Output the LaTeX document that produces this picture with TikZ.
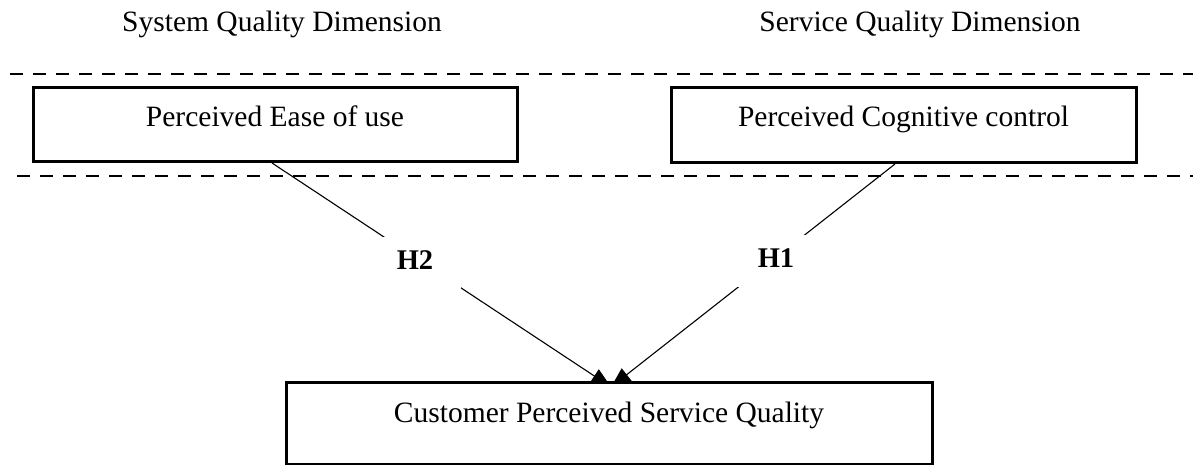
\documentclass[tikz,border=0pt]{standalone}
\usepackage{fontspec}
\setmainfont{Liberation Serif}
\usetikzlibrary{arrows.meta,backgrounds}

\begin{document}
\begin{tikzpicture}[x=1pt,y=-1pt,
  every node/.style={font=\fontsize{29.5}{35}\selectfont},
  heading/.style={anchor=base, inner sep=0pt},
  conbox/.style={draw, line width=3pt, fill=white, inner xsep=0pt, inner ysep=0pt,
                 anchor=north, align=center},
  divider/.style={line width=2.5pt, dash pattern=on 13pt off 10pt},
  conn/.style={line width=1.1pt, -{Triangle[length=20pt,width=16pt]}},
  hyp/.style={fill=white, font=\fontsize{28.5}{34}\selectfont\bfseries, anchor=base,
              inner xsep=28pt, inner ysep=0pt, text height=32pt, text depth=20pt}]
\useasboundingbox (0,0) rectangle (1193,465);

% column headings
\node[heading] (sysdim) at (282,32) {System Quality Dimension};
\node[heading] (serdim) at (920,32) {Service Quality Dimension};

% dashed band around the construct boxes
\draw[divider] (10,74) -- (1193,74);
\draw[divider] (17,176) -- (1193,176);

% constructs
\node[conbox, minimum width=484pt, text height=39pt, text depth=35pt] (peou) at (275,86)
  {Perceived Ease of use};
\node[conbox, minimum width=465pt, text height=39pt, text depth=36pt] (pcc) at (903.5,86)
  {Perceived Cognitive control};

% outcome
\node[conbox, minimum width=646pt, text height=40pt, text depth=42pt] (cpsq) at (609,381)
  {Customer Perceived Service Quality};
\coordinate (target) at (611,387);

% hypotheses: arrows run behind the outcome box, so only the upper part of each head shows
\begin{pgfonlayer}{background}
  \draw[conn] ([xshift=-3pt]peou.south) -- (target);
  \draw[conn] ([xshift=-8.5pt]pcc.south) -- (target);
\end{pgfonlayer}
\node[hyp] (h2) at (415,269) {H2};
\node[hyp] (h1) at (776,267) {H1};
\end{tikzpicture}
\end{document}
